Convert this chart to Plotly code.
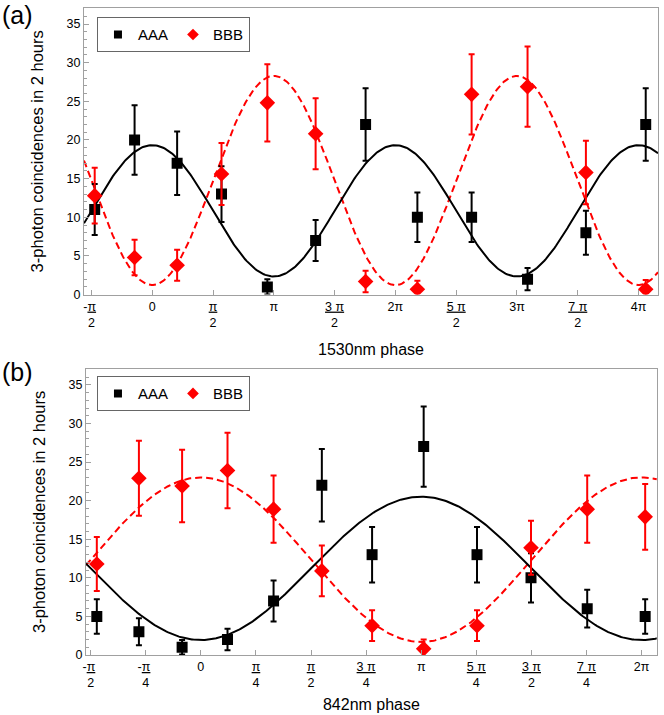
import numpy as np
import plotly.graph_objects as go

# phase positions in units of pi
phase_a = [-0.473, -0.145, 0.205, 0.570, 0.947, 1.344, 1.755, 2.181, 2.627, 3.087, 3.567, 4.059]
aaa_a = [11, 20, 17, 13, 1, 7, 22, 10, 10, 2, 8, 22]
aaa_a_err = [3.3, 4.5, 4.1, 3.6, 1.0, 2.65, 4.7, 3.2, 3.2, 1.45, 2.85, 4.7]
bbb_a = [12.8, 4.8, 3.8, 15.6, 24.8, 20.8, 1.7, 0.7, 25.9, 26.9, 15.8, 0.7]
bbb_a_err = [3.6, 2.3, 2.0, 4.0, 5.0, 4.6, 1.4, 1.1, 5.2, 5.2, 4.1, 1.2]

phase_b = [-0.472, -0.281, -0.085, 0.121, 0.330, 0.549, 0.777, 1.011, 1.253, 1.498, 1.753, 2.016]
aaa_b = [5, 3, 1, 2, 7, 22, 13, 27, 13, 10, 6, 5]
aaa_b_err = [2.24, 1.75, 0.95, 1.4, 2.65, 4.7, 3.6, 5.2, 3.6, 3.2, 2.45, 2.24]
bbb_b = [11.8, 22.9, 21.9, 23.9, 18.9, 10.9, 3.8, 0.8, 3.8, 13.9, 18.9, 17.9]
bbb_b_err = [3.5, 4.85, 4.7, 4.9, 4.35, 3.3, 2.0, 1.2, 2.0, 3.5, 4.35, 4.25]

# fitted curves: offset + amplitude * cos(phase)
fit_aaa_a = (10.84, 8.49)
fit_bbb_a = (14.76, -13.53)
fit_aaa_b = (11.23, -9.29)
fit_bbb_b = (12.35, 10.66)

xrange_a = [-0.561, 4.160]
xrange_b = [-0.521, 2.069]
yrange = [0, 37.07]

ticks_a = [-0.5, 0, 0.5, 1, 1.5, 2, 2.5, 3, 3.5, 4]
labels_a = ["-<u>π</u>\u00a0<br>2", "0", "<u>π</u><br>2", "π", "<u>3 π</u><br>2", "2π",
            "<u>5 π</u><br>2", "3π", "<u>7 π</u><br>2", "4π"]
ticks_b = [-0.5, -0.25, 0, 0.25, 0.5, 0.75, 1, 1.25, 1.5, 1.75, 2]
labels_b = ["-<u>π</u>\u00a0<br>2", "-<u>π</u>\u00a0<br>4", "0", "<u>π</u><br>4", "<u>π</u><br>2",
            "<u>3 π</u><br>4", "π", "<u>5 π</u><br>4", "<u>3 π</u><br>2", "<u>7 π</u><br>4", "2π"]

FONT = "Liberation Sans, Arial, sans-serif"
RED = "#ff0000"
GRAY = "#a0a0a0"


def fit_curve(rng, params):
    x = np.linspace(rng[0], rng[1], 400)
    return x, params[0] + params[1] * np.cos(np.pi * x)


fig = go.Figure()

panels = [
    ("x", "y", "legend", xrange_a, phase_a, aaa_a, aaa_a_err, bbb_a, bbb_a_err, fit_aaa_a, fit_bbb_a),
    ("x2", "y2", "legend2", xrange_b, phase_b, aaa_b, aaa_b_err, bbb_b, bbb_b_err, fit_aaa_b, fit_bbb_b),
]

for xa, ya, leg, rng, ph, aaa, aaa_err, bbb, bbb_err, f_aaa, f_bbb in panels:
    fx, fy = fit_curve(rng, f_bbb)
    fig.add_trace(go.Scatter(x=fx, y=fy, mode="lines", xaxis=xa, yaxis=ya, showlegend=False,
                             line=dict(color=RED, width=2, dash="7px,4px"), hoverinfo="skip"))
    fx, fy = fit_curve(rng, f_aaa)
    fig.add_trace(go.Scatter(x=fx, y=fy, mode="lines", xaxis=xa, yaxis=ya, showlegend=False,
                             line=dict(color="black", width=2), hoverinfo="skip"))
    fig.add_trace(go.Scatter(x=ph, y=aaa, mode="markers", xaxis=xa, yaxis=ya, showlegend=False,
                             marker=dict(symbol="square", size=11, color="black"),
                             error_y=dict(type="data", array=aaa_err, color="black", thickness=2, width=3)))
    fig.add_trace(go.Scatter(x=ph, y=bbb, mode="markers", xaxis=xa, yaxis=ya, showlegend=False,
                             marker=dict(symbol="diamond", size=12, color=RED),
                             error_y=dict(type="data", array=bbb_err, color=RED, thickness=2, width=3)))
    # legend entries with small symbols
    fig.add_trace(go.Scatter(x=[None], y=[None], mode="markers", xaxis=xa, yaxis=ya, name="AAA",
                             legend=leg, marker=dict(symbol="square", size=8, color="black")))
    fig.add_trace(go.Scatter(x=[None], y=[None], mode="markers", xaxis=xa, yaxis=ya, name="BBB",
                             legend=leg, marker=dict(symbol="diamond", size=9, color=RED)))


def xaxis(domain, rng, vals, text, title, standoff, anchor):
    return dict(domain=domain, range=rng, anchor=anchor, tickvals=vals, ticktext=text,
                ticks="inside", ticklen=5, tickcolor=GRAY, showline=True, linecolor=GRAY,
                mirror=True, showgrid=False, zeroline=False,
                tickfont=dict(family=FONT, size=12.5, color="black"),
                title=dict(text=title, font=dict(family=FONT, size=16, color="black"), standoff=standoff))


def yaxis(domain, anchor):
    return dict(domain=domain, range=yrange, anchor=anchor, dtick=5, tick0=0,
                ticks="inside", ticklen=5, tickcolor=GRAY, showline=True, linecolor=GRAY,
                mirror=True, showgrid=False, zeroline=False,
                minor=dict(dtick=1, ticks="inside", ticklen=3, tickcolor=GRAY, showgrid=False),
                tickfont=dict(family=FONT, size=12.5, color="black"),
                title=dict(text="3-photon coincidences in 2 hours",
                           font=dict(family=FONT, size=16.5, color="black"), standoff=18))


legend_style = dict(orientation="h", xanchor="left", yanchor="top", bgcolor="white",
                    bordercolor="#666666", borderwidth=1,
                    font=dict(family=FONT, size=15, color="black"), itemwidth=30)

fig.update_layout(
    width=664, height=715,
    margin=dict(l=84, r=5, t=8, b=58),
    paper_bgcolor="white", plot_bgcolor="white",
    showlegend=True,
    xaxis=xaxis([0, 1], xrange_a, ticks_a, labels_a, "1530nm phase", 14, "y"),
    yaxis=yaxis([0.557, 1], "x"),
    xaxis2=xaxis([0.0035, 0.998], xrange_b, ticks_b, labels_b, "842nm phase", 9, "y2"),
    yaxis2=yaxis([0, 0.4422], "x2"),
    legend=dict(x=0.0226, y=0.9857, **legend_style),
    legend2=dict(x=0.0226, y=0.431, **legend_style),
    annotations=[
        dict(text="(a)", xref="paper", yref="paper", x=-0.146, y=1.014, xanchor="left", yanchor="top",
             showarrow=False, font=dict(family=FONT, size=25, color="black")),
        dict(text="(b)", xref="paper", yref="paper", x=-0.146, y=0.462, xanchor="left", yanchor="top",
             showarrow=False, font=dict(family=FONT, size=25, color="black")),
    ],
)

# the page body has a default margin; drop it so the figure sits at the window origin
fig.write_html("out.html", config={"displayModeBar": False},
               post_script="document.body.style.margin='0px';")
